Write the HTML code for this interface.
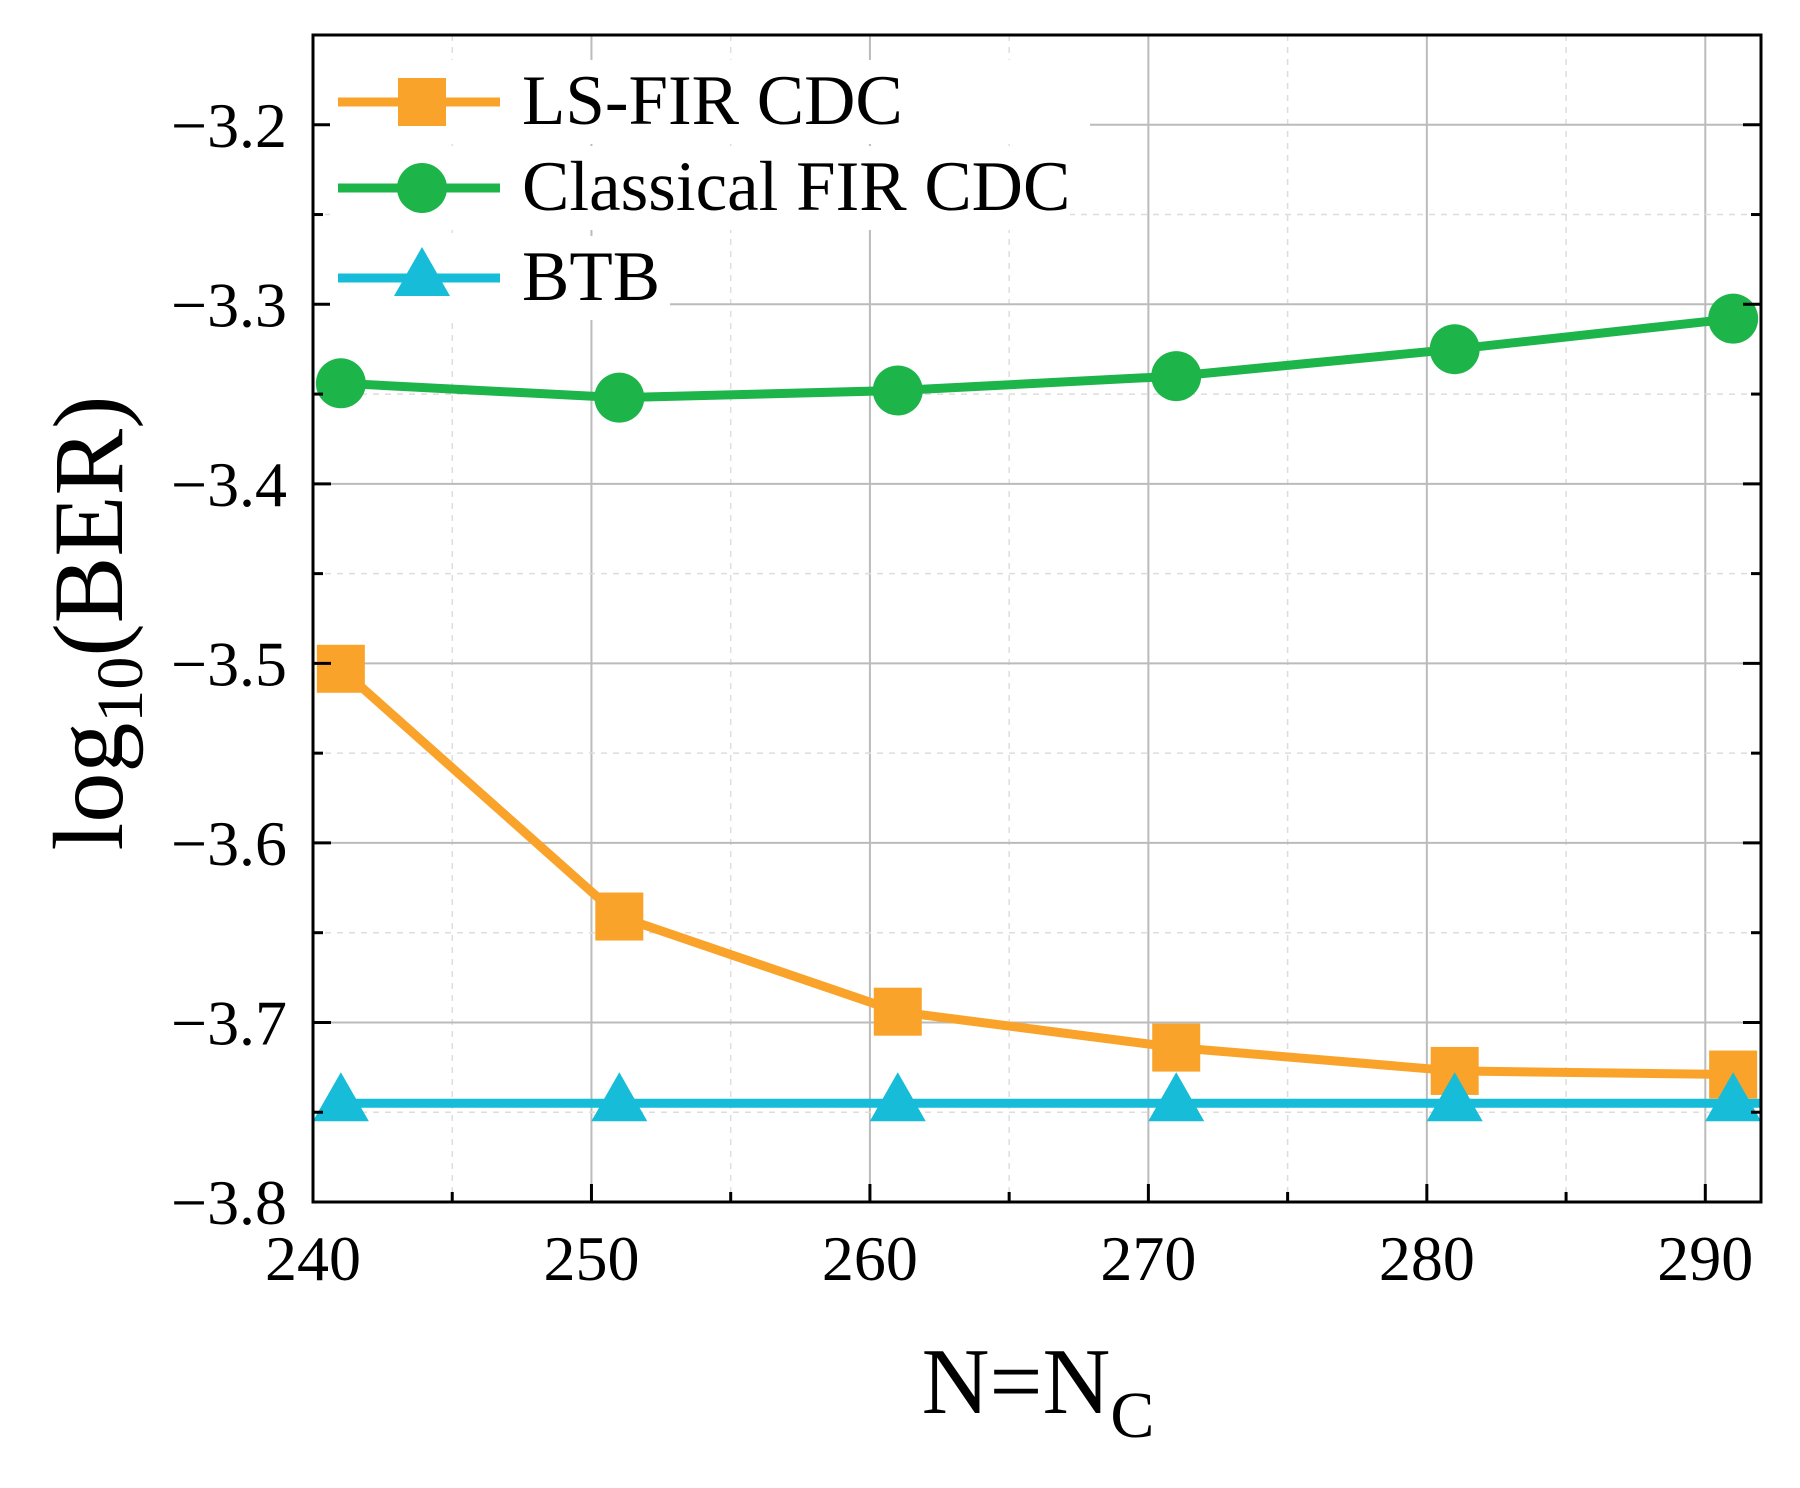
<!DOCTYPE html>
<html><head><meta charset="utf-8"><style>body{margin:0;background:#fff}svg{display:block}text{font-family:"Liberation Serif",serif;fill:#000}</style></head>
<body>
<svg id="chart" width="1800" height="1488" viewBox="0 0 1800 1488" xmlns="http://www.w3.org/2000/svg">
<g id="grid"></g>
<g id="series"></g>
<rect x="313" y="35" width="1448" height="1167" fill="none" stroke="#000" stroke-width="3"/>
<g id="axes"></g>
<text transform="translate(122,623) rotate(-90)" text-anchor="middle" font-size="100">log<tspan font-size="66" dy="20">10</tspan><tspan dy="-20">(BER)</tspan></text>
<text x="1038" y="1413" text-anchor="middle" font-size="94">N=N<tspan font-size="66" dy="24">C</tspan></text>
<g id="legend"></g>
</svg>
<script>
const xValues=[241,251,261,271,281,291];
const lsFir=[-3.503,-3.641,-3.694,-3.714,-3.727,-3.729];
const classicalFir=[-3.344,-3.352,-3.348,-3.340,-3.325,-3.308];
const btb=[-3.745,-3.745,-3.745,-3.745,-3.745,-3.745];
const xTicks=[240,250,260,270,280,290];
const yTicks=[-3.2,-3.3,-3.4,-3.5,-3.6,-3.7,-3.8];
const seriesNames=["LS-FIR CDC","Classical FIR CDC","BTB"];

const NS="http://www.w3.org/2000/svg";
const L=313,R=1761,T=35,B=1202;
const xMin=240,xMax=292,yMin=-3.8,yMax=-3.15;
const sx=v=>L+(v-xMin)/(xMax-xMin)*(R-L);
const sy=v=>B-(v-yMin)/(yMax-yMin)*(B-T);
function mk(tag,attrs,parent){const e=document.createElementNS(NS,tag);for(const k in attrs)e.setAttribute(k,attrs[k]);parent.appendChild(e);return e;}
const grid=document.getElementById('grid'),axes=document.getElementById('axes'),ser=document.getElementById('series'),leg=document.getElementById('legend');
xTicks.forEach(t=>{
  const x=sx(t);
  const g=mk('line',{x1:x,x2:x,y1:T,y2:B,stroke:'#bbb','stroke-width':2},grid);
  
  const xm=sx(t+5);
  if(t+5<xMax){const m=mk('line',{x1:xm,x2:xm,y1:T,y2:B,stroke:'#ddd','stroke-width':1.5,'stroke-dasharray':'6,6'},grid);
  
  mk('line',{x1:xm,x2:xm,y1:B,y2:B-10,stroke:'#000','stroke-width':3},axes);}
  mk('line',{x1:x,x2:x,y1:B,y2:B-18,stroke:'#000','stroke-width':3},axes);
  const tx=mk('text',{x:x,y:1280,'text-anchor':'middle','font-size':64,'textLength':96,'lengthAdjust':'spacingAndGlyphs'},axes);tx.textContent=t;
  
});
yTicks.forEach(t=>{
  const y=sy(t);
  const g=mk('line',{x1:L,x2:R,y1:y,y2:y,stroke:'#bbb','stroke-width':2},grid);
  
  const ym=sy(t+0.05);
  const m=mk('line',{x1:L,x2:R,y1:ym,y2:ym,stroke:'#ddd','stroke-width':1.5,'stroke-dasharray':'6,6'},grid);
  
  [[L,L+18],[R,R-18]].forEach(p=>mk('line',{x1:p[0],x2:p[1],y1:y,y2:y,stroke:'#000','stroke-width':3},axes));
  [[L,L+10],[R,R-10]].forEach(p=>mk('line',{x1:p[0],x2:p[1],y1:ym,y2:ym,stroke:'#000','stroke-width':3},axes));
  const tx=mk('text',{x:287,y:y+22,'text-anchor':'end','font-size':64,'textLength':116,'lengthAdjust':'spacingAndGlyphs'},axes);tx.textContent='\u2212'+Math.abs(t).toFixed(1);
  
});
function marker(kind,x,y,color,parent){
  let e;
  if(kind==='square')e=mk('rect',{x:x-24,y:y-24,width:48,height:48,fill:color},parent);
  else if(kind==='circle')e=mk('circle',{cx:x,cy:y,r:25,fill:color},parent);
  else e=mk('polygon',{points:`${x},${y-31} ${x-28},${y+18} ${x+28},${y+18}`,fill:color},parent);
  return e;
}
const defs=[[lsFir,'#f9a32a','square'],[classicalFir,'#1db44a','circle'],[btb,'#16bcd8','triangle']];
defs.forEach((d,i)=>{
  const [vals,color,kind]=d;
  const pts=xValues.map((x,j)=>sx(x)+','+sy(vals[j])).join(' ');
  const pl=mk('polyline',{points:pts,fill:'none',stroke:color,'stroke-width':9,'stroke-linejoin':'round'},ser);
  
  if(kind==='triangle'){pl.setAttribute('points',sx(xMin+0.5)+','+sy(vals[0])+' '+R+','+sy(vals[vals.length-1]));}
  xValues.forEach((x,j)=>{const m=marker(kind,sx(x),sy(vals[j]),color,ser);
    });
  const ly=[102,188,278][i];
  const bg=mk('rect',{x:330,y:ly-42,width:[580,560,160][i]+180,height:84,fill:'#fff'},leg);
  
  const ll=mk('line',{x1:338,x2:500,y1:ly,y2:ly,stroke:color,'stroke-width':9},leg);
  
  const lm=marker(kind,422,ly,color,leg);
  
  const lt=mk('text',{x:522,y:ly+22,'font-size':71},leg);lt.textContent=seriesNames[i];
  
});
</script>
</body></html>
